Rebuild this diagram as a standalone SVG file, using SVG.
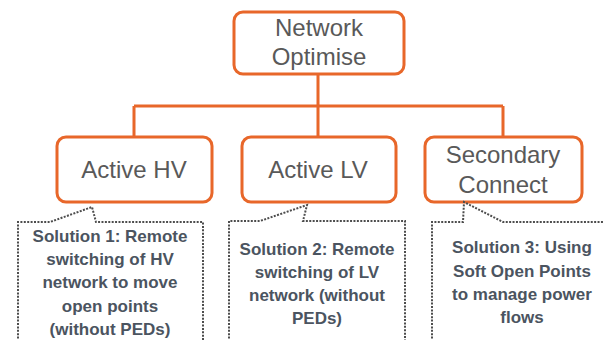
<svg xmlns="http://www.w3.org/2000/svg" width="603" height="340" viewBox="0 0 603 340">
<style>
.box{fill:#fff;stroke:#E8672A;stroke-width:3}
.conn{fill:none;stroke:#E8672A;stroke-width:3}
.lbl{font-family:"Liberation Sans",Arial,sans-serif;font-size:24px;fill:#595959;text-anchor:middle}
.call{fill:none;stroke:#4d4d4d;stroke-width:2;stroke-dasharray:2 1.4}
.ct{font-family:"Liberation Sans",Arial,sans-serif;font-size:17px;font-weight:bold;fill:#4B5460;text-anchor:middle}
</style>
<rect width="603" height="340" fill="#fff"/>
<g id="connectors">
<path class="conn" d="M318,74 V106 M134,106 H503 M134,106 V137 M318,106 V137 M503,106 V137"/>
</g>
<g id="node-network-optimise">
<rect class="box" x="234" y="12" width="170" height="62" rx="9"/>
<text class="lbl" x="319" y="36">Network</text>
<text class="lbl" x="319" y="65">Optimise</text>
</g>
<g id="node-active-hv">
<rect class="box" x="57" y="137" width="155" height="65" rx="9"/>
<text class="lbl" x="134" y="178">Active HV</text>
</g>
<g id="node-active-lv">
<rect class="box" x="242" y="137" width="154" height="65" rx="9"/>
<text class="lbl" x="318" y="178">Active LV</text>
</g>
<g id="node-secondary-connect">
<rect class="box" x="425" y="137" width="157" height="65" rx="9"/>
<text class="lbl" x="503" y="163">Secondary</text>
<text class="lbl" x="503" y="193">Connect</text>
</g>
<g id="callout-1">
<path class="call" d="M18,342 V222 H50 L92,207 L96,222 H203 V342"/>
<text class="ct" x="110" y="242">Solution 1: Remote</text>
<text class="ct" x="110" y="265">switching of HV</text>
<text class="ct" x="110" y="288">network to move</text>
<text class="ct" x="110" y="312">open points</text>
<text class="ct" x="110" y="335">(without PEDs)</text>
</g>
<g id="callout-2">
<path class="call" d="M229,342 V221 H260 L307,205 L303,221 H405 V342"/>
<text class="ct" x="317" y="255">Solution 2: Remote</text>
<text class="ct" x="317" y="278">switching of LV</text>
<text class="ct" x="317" y="301">network (without</text>
<text class="ct" x="317" y="324">PEDs)</text>
</g>
<g id="callout-3">
<path class="call" d="M432,342 V222 H463 L464,202 L503,222 H606"/>
<text class="ct" x="522" y="253">Solution 3: Using</text>
<text class="ct" x="522" y="277">Soft Open Points</text>
<text class="ct" x="522" y="300">to manage power</text>
<text class="ct" x="522" y="323">flows</text>
</g>
</svg>
